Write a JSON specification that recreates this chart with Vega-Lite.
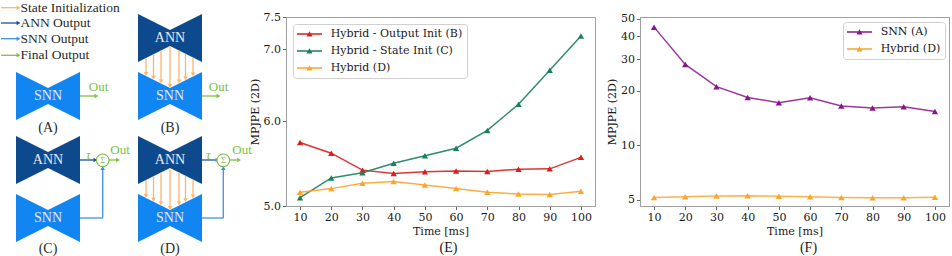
{
  "$schema": "https://vega.github.io/schema/vega-lite/v6.json",
  "padding": 0,
  "background": "white",
  "spacing": 45,
  "bounds": "flush",
  "resolve": {"scale": {"color": "independent", "stroke": "independent", "shape": "independent"}, "legend": {"color": "independent", "stroke": "independent"}},
  "config": {
    "font": "DejaVu Serif",
    "view": {"stroke": "#a0a0a0", "strokeWidth": 1},
    "axis": {"labelFont": "DejaVu Serif", "labelFontSize": 11, "labelColor": "#1a1a1a", "titleFont": "DejaVu Serif", "titleFontSize": 11, "titleFontWeight": "normal", "titleColor": "#1a1a1a", "domainColor": "#a0a0a0", "tickColor": "#666666", "tickSize": 3.5, "grid": false, "labelPadding": 2, "titlePadding": 3, "labelOverlap": false, "labelSeparation": 0},
    "axisQuantitative": {"labelOverlap": false}
  },
  "datasets": {
    "shapes": [
      {"id": "A1", "kind": "SNN", "x": 15, "top": 70, "bot": 118}, {"id": "A1", "kind": "SNN", "x": 47, "top": 86, "bot": 102}, {"id": "A1", "kind": "SNN", "x": 79, "top": 70, "bot": 118},
      {"id": "B2", "kind": "ANN", "x": 137, "top": 12, "bot": 60}, {"id": "B2", "kind": "ANN", "x": 169, "top": 28, "bot": 44}, {"id": "B2", "kind": "ANN", "x": 201, "top": 12, "bot": 60},
      {"id": "B1", "kind": "SNN", "x": 137, "top": 70, "bot": 118}, {"id": "B1", "kind": "SNN", "x": 169, "top": 86, "bot": 102}, {"id": "B1", "kind": "SNN", "x": 201, "top": 70, "bot": 118},
      {"id": "C2", "kind": "ANN", "x": 15, "top": 134, "bot": 182}, {"id": "C2", "kind": "ANN", "x": 47, "top": 150, "bot": 166}, {"id": "C2", "kind": "ANN", "x": 79, "top": 134, "bot": 182},
      {"id": "C1", "kind": "SNN", "x": 15, "top": 192, "bot": 240}, {"id": "C1", "kind": "SNN", "x": 47, "top": 208, "bot": 224}, {"id": "C1", "kind": "SNN", "x": 79, "top": 192, "bot": 240},
      {"id": "D2", "kind": "ANN", "x": 137, "top": 134, "bot": 182}, {"id": "D2", "kind": "ANN", "x": 169, "top": 150, "bot": 166}, {"id": "D2", "kind": "ANN", "x": 201, "top": 134, "bot": 182},
      {"id": "D1", "kind": "SNN", "x": 137, "top": 192, "bot": 240}, {"id": "D1", "kind": "SNN", "x": 169, "top": 208, "bot": 224}, {"id": "D1", "kind": "SNN", "x": 201, "top": 192, "bot": 240}
    ],
    "arrows": [
      {"kind": "init", "w": "n", "x": 0, "y": 5.7, "x2": 16, "y2": 5.7},
      {"kind": "annout", "w": "n", "x": 0, "y": 21, "x2": 16, "y2": 21},
      {"kind": "snnout", "w": "n", "x": 0, "y": 36.7, "x2": 16, "y2": 36.7},
      {"kind": "final", "w": "n", "x": 0, "y": 53.3, "x2": 16, "y2": 53.3},
      {"kind": "final", "w": "n", "x": 79, "y": 94, "x2": 94, "y2": 94},
      {"kind": "final", "w": "n", "x": 201, "y": 94, "x2": 216, "y2": 94},
      {"kind": "init", "w": "n", "x": 145, "y": 56, "x2": 145, "y2": 72},
      {"kind": "init", "w": "n", "x": 152.5, "y": 52.25, "x2": 152.5, "y2": 75.75},
      {"kind": "init", "w": "n", "x": 160, "y": 48.5, "x2": 160, "y2": 79.5},
      {"kind": "init", "w": "n", "x": 169, "y": 44, "x2": 169, "y2": 84},
      {"kind": "init", "w": "n", "x": 178, "y": 48.5, "x2": 178, "y2": 79.5},
      {"kind": "init", "w": "n", "x": 184.5, "y": 51.75, "x2": 184.5, "y2": 76.25},
      {"kind": "init", "w": "n", "x": 192, "y": 55.5, "x2": 192, "y2": 72.5},
      {"kind": "init", "w": "n", "x": 145, "y": 178, "x2": 145, "y2": 194},
      {"kind": "init", "w": "n", "x": 152.5, "y": 174.25, "x2": 152.5, "y2": 197.75},
      {"kind": "init", "w": "n", "x": 160, "y": 170.5, "x2": 160, "y2": 201.5},
      {"kind": "init", "w": "n", "x": 169, "y": 166, "x2": 169, "y2": 206},
      {"kind": "init", "w": "n", "x": 178, "y": 170.5, "x2": 178, "y2": 201.5},
      {"kind": "init", "w": "n", "x": 184.5, "y": 173.75, "x2": 184.5, "y2": 198.25},
      {"kind": "init", "w": "n", "x": 192, "y": 177.5, "x2": 192, "y2": 194.5},
      {"kind": "annout", "w": "n", "x": 79, "y": 158, "x2": 93, "y2": 158},
      {"kind": "snnout", "w": "n", "x": 79, "y": 216, "x2": 101.7, "y2": 216},
      {"kind": "snnout", "w": "n", "x": 101.7, "y": 216, "x2": 101.7, "y2": 166.5},
      {"kind": "final", "w": "n", "x": 107.7, "y": 158, "x2": 115.5, "y2": 158},
      {"kind": "mixed", "w": "t", "x": 201, "y": 158, "x2": 215, "y2": 158},
      {"kind": "snnout", "w": "n", "x": 201, "y": 216, "x2": 222.3, "y2": 216},
      {"kind": "snnout", "w": "n", "x": 222.3, "y": 216, "x2": 222.3, "y2": 166.5},
      {"kind": "final", "w": "n", "x": 228.3, "y": 158, "x2": 236.5, "y2": 158}
    ],
    "heads": [
      {"kind": "init", "dir": "right", "x": 17.5, "y": 5.7},
      {"kind": "annout", "dir": "right", "x": 17.5, "y": 21},
      {"kind": "snnout", "dir": "right", "x": 17.5, "y": 36.7},
      {"kind": "final", "dir": "right", "x": 17.5, "y": 53.3},
      {"kind": "final", "dir": "right", "x": 95.5, "y": 94},
      {"kind": "final", "dir": "right", "x": 217.5, "y": 94},
      {"kind": "init", "dir": "down", "x": 145, "y": 72},
      {"kind": "init", "dir": "down", "x": 152.5, "y": 75.75},
      {"kind": "init", "dir": "down", "x": 160, "y": 79.5},
      {"kind": "init", "dir": "down", "x": 169, "y": 84},
      {"kind": "init", "dir": "down", "x": 178, "y": 79.5},
      {"kind": "init", "dir": "down", "x": 184.5, "y": 76.25},
      {"kind": "init", "dir": "down", "x": 192, "y": 72.5},
      {"kind": "init", "dir": "down", "x": 145, "y": 194},
      {"kind": "init", "dir": "down", "x": 152.5, "y": 197.75},
      {"kind": "init", "dir": "down", "x": 160, "y": 201.5},
      {"kind": "init", "dir": "down", "x": 169, "y": 206},
      {"kind": "init", "dir": "down", "x": 178, "y": 201.5},
      {"kind": "init", "dir": "down", "x": 184.5, "y": 198.25},
      {"kind": "init", "dir": "down", "x": 192, "y": 194.5},
      {"kind": "annout", "dir": "right", "x": 94.5, "y": 158},
      {"kind": "snnout", "dir": "up", "x": 101.7, "y": 166},
      {"kind": "final", "dir": "right", "x": 117, "y": 158},
      {"kind": "mixed", "dir": "right", "x": 216.5, "y": 158},
      {"kind": "snnout", "dir": "up", "x": 222.3, "y": 166},
      {"kind": "final", "dir": "right", "x": 238, "y": 158}
    ],
    "sums": [{"x": 101.7, "y": 158.3}, {"x": 222.3, "y": 158.3}],
    "texts": [
      {"role": "legend", "txt": "State Initialization", "x": 19.5, "y": 5.7},
      {"role": "legend", "txt": "ANN Output", "x": 19.5, "y": 21},
      {"role": "legend", "txt": "SNN Output", "x": 19.5, "y": 36.7},
      {"role": "legend", "txt": "Final Output", "x": 19.5, "y": 53.3},
      {"role": "net", "txt": "SNN", "x": 47, "y": 94},
      {"role": "net", "txt": "ANN", "x": 169, "y": 36},
      {"role": "net", "txt": "SNN", "x": 169, "y": 94},
      {"role": "net", "txt": "ANN", "x": 47, "y": 158},
      {"role": "net", "txt": "SNN", "x": 47, "y": 216},
      {"role": "net", "txt": "ANN", "x": 169, "y": 158},
      {"role": "net", "txt": "SNN", "x": 169, "y": 216},
      {"role": "label", "txt": "(A)", "x": 47, "y": 126},
      {"role": "label", "txt": "(B)", "x": 169, "y": 126},
      {"role": "label", "txt": "(C)", "x": 47, "y": 247},
      {"role": "label", "txt": "(D)", "x": 169, "y": 247},
      {"role": "out", "txt": "Out", "x": 97.5, "y": 85},
      {"role": "out", "txt": "Out", "x": 217.5, "y": 85},
      {"role": "out", "txt": "Out", "x": 119, "y": 148},
      {"role": "out", "txt": "Out", "x": 241, "y": 148},
      {"role": "tau", "txt": "τ", "x": 87.3, "y": 153},
      {"role": "tau", "txt": "τ", "x": 207.3, "y": 153},
      {"role": "sigma", "txt": "Σ", "x": 101.7, "y": 158.5},
      {"role": "sigma", "txt": "Σ", "x": 222.3, "y": 158.5}
    ],
    "E": [
      {"t": 10, "s": "Hybrid - Output Init (B)", "v": 5.73}, {"t": 20, "s": "Hybrid - Output Init (B)", "v": 5.60}, {"t": 30, "s": "Hybrid - Output Init (B)", "v": 5.40}, {"t": 40, "s": "Hybrid - Output Init (B)", "v": 5.36}, {"t": 50, "s": "Hybrid - Output Init (B)", "v": 5.38}, {"t": 60, "s": "Hybrid - Output Init (B)", "v": 5.39}, {"t": 70, "s": "Hybrid - Output Init (B)", "v": 5.385}, {"t": 80, "s": "Hybrid - Output Init (B)", "v": 5.41}, {"t": 90, "s": "Hybrid - Output Init (B)", "v": 5.415}, {"t": 100, "s": "Hybrid - Output Init (B)", "v": 5.55},
      {"t": 10, "s": "Hybrid - State Init (C)", "v": 5.09}, {"t": 20, "s": "Hybrid - State Init (C)", "v": 5.31}, {"t": 30, "s": "Hybrid - State Init (C)", "v": 5.37}, {"t": 40, "s": "Hybrid - State Init (C)", "v": 5.48}, {"t": 50, "s": "Hybrid - State Init (C)", "v": 5.57}, {"t": 60, "s": "Hybrid - State Init (C)", "v": 5.66}, {"t": 70, "s": "Hybrid - State Init (C)", "v": 5.88}, {"t": 80, "s": "Hybrid - State Init (C)", "v": 6.22}, {"t": 90, "s": "Hybrid - State Init (C)", "v": 6.69}, {"t": 100, "s": "Hybrid - State Init (C)", "v": 7.20},
      {"t": 10, "s": "Hybrid (D)", "v": 5.15}, {"t": 20, "s": "Hybrid (D)", "v": 5.19}, {"t": 30, "s": "Hybrid (D)", "v": 5.25}, {"t": 40, "s": "Hybrid (D)", "v": 5.27}, {"t": 50, "s": "Hybrid (D)", "v": 5.23}, {"t": 60, "s": "Hybrid (D)", "v": 5.19}, {"t": 70, "s": "Hybrid (D)", "v": 5.15}, {"t": 80, "s": "Hybrid (D)", "v": 5.13}, {"t": 90, "s": "Hybrid (D)", "v": 5.125}, {"t": 100, "s": "Hybrid (D)", "v": 5.16}
    ],
    "F": [
      {"t": 10, "s": "SNN (A)", "v": 45.0}, {"t": 20, "s": "SNN (A)", "v": 28.0}, {"t": 30, "s": "SNN (A)", "v": 21.1}, {"t": 40, "s": "SNN (A)", "v": 18.4}, {"t": 50, "s": "SNN (A)", "v": 17.2}, {"t": 60, "s": "SNN (A)", "v": 18.3}, {"t": 70, "s": "SNN (A)", "v": 16.5}, {"t": 80, "s": "SNN (A)", "v": 16.1}, {"t": 90, "s": "SNN (A)", "v": 16.35}, {"t": 100, "s": "SNN (A)", "v": 15.4},
      {"t": 10, "s": "Hybrid (D)", "v": 5.15}, {"t": 20, "s": "Hybrid (D)", "v": 5.19}, {"t": 30, "s": "Hybrid (D)", "v": 5.25}, {"t": 40, "s": "Hybrid (D)", "v": 5.27}, {"t": 50, "s": "Hybrid (D)", "v": 5.23}, {"t": 60, "s": "Hybrid (D)", "v": 5.19}, {"t": 70, "s": "Hybrid (D)", "v": 5.15}, {"t": 80, "s": "Hybrid (D)", "v": 5.13}, {"t": 90, "s": "Hybrid (D)", "v": 5.125}, {"t": 100, "s": "Hybrid (D)", "v": 5.16}
    ]
  },
  "hconcat": [
    {
      "width": 240,
      "height": 189,
      "view": {"stroke": null},
      "layer": [
        {
          "data": {"name": "shapes"},
          "mark": {"type": "area", "opacity": 1},
          "encoding": {
            "x": {"field": "x", "type": "quantitative", "scale": {"domain": [0, 240], "nice": false, "zero": false}, "axis": null},
            "y": {"field": "top", "type": "quantitative", "stack": null, "scale": {"domain": [15, 204], "reverse": true, "nice": false, "zero": false}, "axis": null},
            "y2": {"field": "bot"},
            "detail": {"field": "id"},
            "color": {"field": "kind", "type": "nominal", "scale": {"domain": ["ANN", "SNN", "init", "annout", "snnout", "final", "mixed"], "range": ["#0d4a8d", "#1185f2", "#fdb46c", "#1d4f92", "#3e8fee", "#7cc143", "#6d90bd"]}, "legend": null}
          }
        },
        {
          "data": {"name": "arrows"},
          "transform": [{"filter": "datum.w == 'n'"}],
          "mark": {"type": "rule", "strokeWidth": 1.3},
          "encoding": {
            "x": {"field": "x", "type": "quantitative"},
            "y": {"field": "y", "type": "quantitative"},
            "x2": {"field": "x2"},
            "y2": {"field": "y2"},
            "color": {"field": "kind", "type": "nominal", "legend": null}
          }
        },
        {
          "data": {"name": "arrows"},
          "transform": [{"filter": "datum.w == 't'"}],
          "mark": {"type": "rule", "strokeWidth": 2},
          "encoding": {
            "x": {"field": "x", "type": "quantitative"},
            "y": {"field": "y", "type": "quantitative"},
            "x2": {"field": "x2"},
            "y2": {"field": "y2"},
            "color": {"field": "kind", "type": "nominal", "legend": null}
          }
        },
        {
          "data": {"name": "heads"},
          "mark": {"type": "point", "filled": true, "size": 20, "opacity": 1},
          "encoding": {
            "x": {"field": "x", "type": "quantitative"},
            "y": {"field": "y", "type": "quantitative"},
            "shape": {"field": "dir", "type": "nominal", "scale": {"domain": ["right", "down", "up"], "range": ["triangle-right", "triangle-down", "triangle-up"]}, "legend": null},
            "color": {"field": "kind", "type": "nominal", "legend": null}
          }
        },
        {
          "data": {"name": "sums"},
          "mark": {"type": "point", "shape": "circle", "size": 160, "filled": true, "fill": "white", "stroke": "#7cc143", "strokeWidth": 1.1, "opacity": 1},
          "encoding": {
            "x": {"field": "x", "type": "quantitative"},
            "y": {"field": "y", "type": "quantitative"}
          }
        },
        {
          "data": {"name": "texts"},
          "transform": [{"filter": "datum.role == 'legend'"}],
          "mark": {"type": "text", "align": "left", "baseline": "middle", "font": "Liberation Serif", "fontSize": 13.5, "color": "#2a2a2a"},
          "encoding": {"x": {"field": "x", "type": "quantitative"}, "y": {"field": "y", "type": "quantitative"}, "text": {"field": "txt"}}
        },
        {
          "data": {"name": "texts"},
          "transform": [{"filter": "datum.role == 'net'"}],
          "mark": {"type": "text", "align": "center", "baseline": "middle", "font": "Liberation Serif", "fontSize": 14, "color": "#e6e8f4"},
          "encoding": {"x": {"field": "x", "type": "quantitative"}, "y": {"field": "y", "type": "quantitative"}, "text": {"field": "txt"}}
        },
        {
          "data": {"name": "texts"},
          "transform": [{"filter": "datum.role == 'label'"}],
          "mark": {"type": "text", "align": "center", "baseline": "middle", "font": "Liberation Serif", "fontSize": 14, "color": "#2a2a2a"},
          "encoding": {"x": {"field": "x", "type": "quantitative"}, "y": {"field": "y", "type": "quantitative"}, "text": {"field": "txt"}}
        },
        {
          "data": {"name": "texts"},
          "transform": [{"filter": "datum.role == 'out'"}],
          "mark": {"type": "text", "align": "center", "baseline": "middle", "font": "Liberation Serif", "fontSize": 13, "color": "#7cc143"},
          "encoding": {"x": {"field": "x", "type": "quantitative"}, "y": {"field": "y", "type": "quantitative"}, "text": {"field": "txt"}}
        },
        {
          "data": {"name": "texts"},
          "transform": [{"filter": "datum.role == 'tau'"}],
          "mark": {"type": "text", "align": "center", "baseline": "middle", "font": "Liberation Serif", "fontStyle": "italic", "fontSize": 13, "color": "#7cc143"},
          "encoding": {"x": {"field": "x", "type": "quantitative"}, "y": {"field": "y", "type": "quantitative"}, "text": {"field": "txt"}}
        },
        {
          "data": {"name": "texts"},
          "transform": [{"filter": "datum.role == 'sigma'"}],
          "mark": {"type": "text", "align": "center", "baseline": "middle", "font": "Liberation Serif", "fontSize": 8, "color": "#7cc143"},
          "encoding": {"x": {"field": "x", "type": "quantitative"}, "y": {"field": "y", "type": "quantitative"}, "text": {"field": "txt"}}
        }
      ]
    },
    {
      "width": 309,
      "height": 189,
      "title": {"text": "(E)", "orient": "bottom", "font": "Liberation Serif", "fontSize": 14, "fontWeight": "normal", "color": "#1a1a1a", "offset": 4, "dx": 8},
      "data": {"name": "E"},
      "encoding": {
        "x": {"field": "t", "type": "quantitative", "scale": {"domain": [5.5, 104.5], "nice": false, "zero": false}, "axis": {"values": [10, 20, 30, 40, 50, 60, 70, 80, 90, 100], "title": "Time [ms]", "labelOverlap": false}},
        "y": {"field": "v", "type": "quantitative", "scale": {"type": "log", "domain": [5, 7.5], "nice": false}, "axis": {"values": [5, 6, 7, 7.5], "format": ".1f", "title": "MPJPE (2D)", "labelOverlap": false}}
      },
      "layer": [
        {
          "mark": {"type": "line", "strokeWidth": 1.5, "opacity": 0.9},
          "encoding": {
            "stroke": {"field": "s", "type": "nominal", "scale": {"domain": ["Hybrid (D)", "Hybrid - Output Init (B)", "Hybrid - State Init (C)"], "range": ["#fca42c", "#d81e1e", "#17805c"]}, "legend": null}
          }
        },
        {
          "mark": {"type": "point", "shape": "triangle-up", "filled": true, "size": 40, "opacity": 1},
          "encoding": {
            "color": {"field": "s", "type": "nominal", "scale": {"domain": ["Hybrid - Output Init (B)", "Hybrid - State Init (C)", "Hybrid (D)"], "range": ["#d81e1e", "#17805c", "#fca42c"]},
              "legend": {"orient": "none", "legendX": 7, "legendY": 7, "title": null, "symbolType": "M-2.5,-0.13H2.5V0.13H-2.5ZM0,-0.55L0.6,0.5H-0.6Z", "symbolSize": 100, "symbolOffset": 6.5, "labelOffset": 15.7, "padding": 4.5, "rowPadding": 5, "strokeColor": "#d0d0d0", "fillColor": "rgba(255,255,255,0.85)", "cornerRadius": 3, "labelFont": "DejaVu Serif", "labelFontSize": 11, "labelColor": "#1a1a1a", "symbolStrokeWidth": 0, "labelLimit": 300}}
          }
        }
      ]
    },
    {
      "width": 309,
      "height": 189,
      "title": {"text": "(F)", "orient": "bottom", "font": "Liberation Serif", "fontSize": 14, "fontWeight": "normal", "color": "#1a1a1a", "offset": 4, "dx": 14},
      "data": {"name": "F"},
      "encoding": {
        "x": {"field": "t", "type": "quantitative", "scale": {"domain": [5.5, 104.5], "nice": false, "zero": false}, "axis": {"values": [10, 20, 30, 40, 50, 60, 70, 80, 90, 100], "title": "Time [ms]", "labelOverlap": false}},
        "y": {"field": "v", "type": "quantitative", "scale": {"type": "log", "domain": [4.62, 51.2], "nice": false}, "axis": {"values": [5, 10, 20, 30, 40, 50], "format": "d", "title": "MPJPE (2D)", "labelOverlap": false}}
      },
      "layer": [
        {
          "mark": {"type": "line", "strokeWidth": 1.5, "opacity": 0.85},
          "encoding": {
            "stroke": {"field": "s", "type": "nominal", "scale": {"domain": ["Hybrid (D)", "SNN (A)"], "range": ["#fca42c", "#88168a"]}, "legend": null}
          }
        },
        {
          "mark": {"type": "point", "shape": "triangle-up", "filled": true, "size": 40, "opacity": 1},
          "encoding": {
            "color": {"field": "s", "type": "nominal", "scale": {"domain": ["SNN (A)", "Hybrid (D)"], "range": ["#88168a", "#fca42c"]},
              "legend": {"orient": "none", "legendX": 203, "legendY": 5, "title": null, "symbolType": "M-2.5,-0.13H2.5V0.13H-2.5ZM0,-0.55L0.6,0.5H-0.6Z", "symbolSize": 100, "symbolOffset": 6.5, "labelOffset": 15.7, "padding": 4.5, "rowPadding": 5, "strokeColor": "#d0d0d0", "fillColor": "rgba(255,255,255,0.85)", "cornerRadius": 3, "labelFont": "DejaVu Serif", "labelFontSize": 11, "labelColor": "#1a1a1a", "symbolStrokeWidth": 0, "labelLimit": 300}}
          }
        }
      ]
    }
  ]
}
